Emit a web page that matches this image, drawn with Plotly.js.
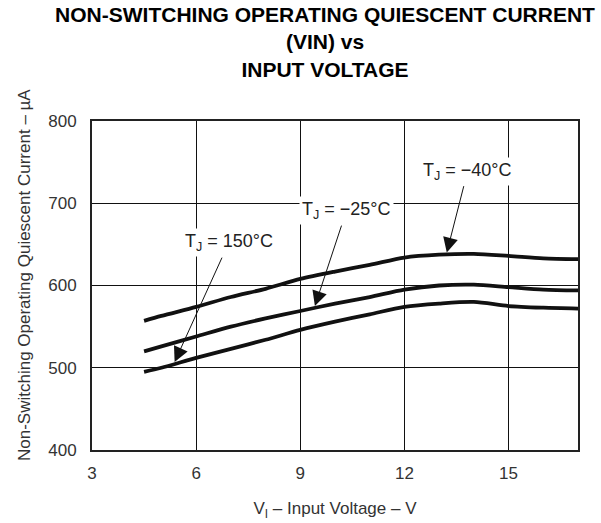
<!DOCTYPE html>
<html>
<head>
<meta charset="utf-8">
<script src="https://cdn.plot.ly/plotly-3.0.1.min.js"></script>
<style>
  html, body { margin: 0; padding: 0; background: #fff; }
  #chart { width: 601px; height: 523px; }
</style>
</head>
<body>
<div id="chart"></div>
<script>
// ---- data ----
const vin = [4.5, 5, 6, 7, 8, 9, 10, 11, 12, 13, 14, 15, 16, 17];
const iqM40 = [557, 563, 574, 586, 596, 608, 617, 625, 634, 637.5, 638.5, 636, 633, 632];
const iqM25 = [520, 526, 538, 550, 560, 569, 578, 586, 595, 600, 601, 598, 595, 594];
const iq150 = [495, 500, 512, 523, 534, 546, 556, 565, 574, 578, 580, 575, 573, 572];

const seriesNames = ['T<sub>J</sub> = −40°C', 'T<sub>J</sub> = −25°C', 'T<sub>J</sub> = 150°C'];
const seriesData = [iqM40, iqM25, iq150];

// label centre (data coords) and arrow tip (data coords)
const labelX = [13.82, 10.33, 6.94];
const labelY = [739, 691, 652];
const arrowTipX = [13.22, 9.42, 5.38];
const arrowTipY = [640, 575, 507];

const xTicks = [3, 6, 9, 12, 15];
const yTicks = [400, 500, 600, 700, 800];

const FONT = '"Liberation Sans", Arial, Helvetica, sans-serif';

const traces = seriesData.map((ys, i) => ({
  type: 'scatter',
  mode: 'lines',
  x: vin,
  y: ys,
  name: seriesNames[i],
  line: { color: '#111', width: 3.8, shape: 'spline', smoothing: 0.8 },
  hoverinfo: 'x+y+name'
}));

const annotations = [];
for (let i = 0; i < seriesNames.length; i++) {
  annotations.push({
    x: arrowTipX[i], y: arrowTipY[i], xref: 'x', yref: 'y',
    ax: labelX[i], ay: labelY[i], axref: 'x', ayref: 'y',
    text: seriesNames[i], showarrow: true,
    arrowhead: 2, arrowsize: 3, arrowwidth: 1, arrowcolor: '#111',
    standoff: 0, startstandoff: 1,
    bgcolor: '#fff', borderpad: 2,
    font: { family: FONT, size: 18, color: '#222' }
  });
}
// y-axis title as rotated text
annotations.push({
  xref: 'paper', yref: 'paper',
  x: (24 - 92) / 486, y: (450 - 275) / 329,
  xanchor: 'center', yanchor: 'middle', textangle: -90,
  text: 'Non-Switching Operating Quiescent Current – µA',
  showarrow: false,
  font: { family: FONT, size: 17, color: '#333' }
});

const layout = {
  width: 601, height: 523,
  margin: { l: 92, r: 23, t: 121, b: 73, pad: 0 },
  paper_bgcolor: '#fff', plot_bgcolor: '#fff',
  showlegend: false,
  font: { family: FONT, size: 17, color: '#333' },
  title: {
    text: '<b>NON-SWITCHING OPERATING QUIESCENT CURRENT</b><br><b>(VIN) vs</b><br><b>INPUT VOLTAGE</b>',
    font: { family: FONT, size: 21, color: '#000' },
    xref: 'container', x: 325 / 601, xanchor: 'center',
    yref: 'container', y: 1 - 22 / 523, yanchor: 'middle'
  },
  xaxis: {
    range: [3, 17],
    tickvals: xTicks,
    ticktext: xTicks.map(String),
    showgrid: true, gridcolor: '#111', gridwidth: 1,
    showline: true, mirror: true, linecolor: '#222', linewidth: 2,
    zeroline: false, ticks: '',
    ticklabelstandoff: 7,
    tickfont: { family: FONT, size: 17, color: '#333' },
    title: {
      text: 'V<sub>I</sub> – Input Voltage – V',
      font: { family: FONT, size: 17, color: '#333' },
      standoff: 20
    },
    automargin: false
  },
  yaxis: {
    range: [400, 800],
    tickvals: yTicks,
    ticktext: yTicks.map(String),
    showgrid: true, gridcolor: '#111', gridwidth: 1,
    showline: true, mirror: true, linecolor: '#222', linewidth: 2,
    zeroline: false, ticks: '',
    ticklabelstandoff: 10,
    tickfont: { family: FONT, size: 17, color: '#333' },
    automargin: false
  },
  annotations: annotations
};

Plotly.newPlot('chart', traces, layout, { displayModeBar: false, staticPlot: true });
</script>
</body>
</html>
